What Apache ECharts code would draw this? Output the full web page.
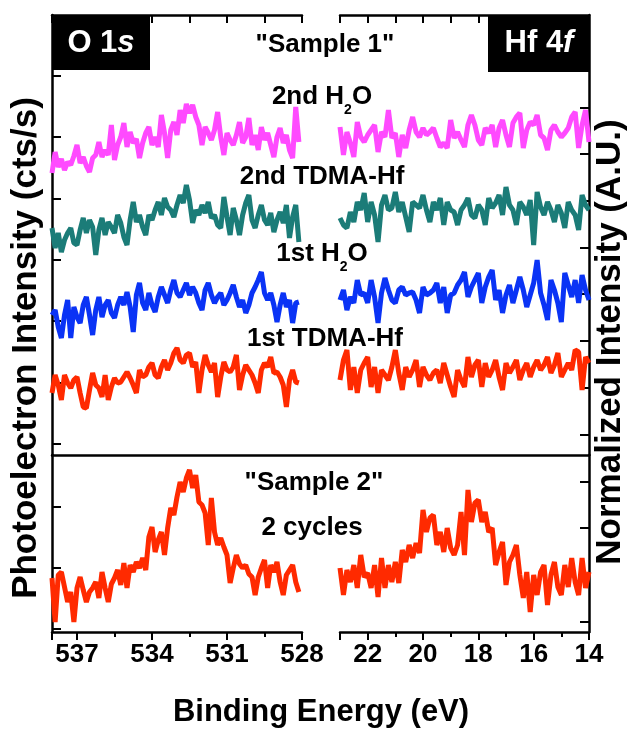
<!DOCTYPE html>
<html><head><meta charset="utf-8">
<script src="https://cdn.jsdelivr.net/npm/echarts@6/dist/echarts.min.js"></script>
<style>html,body{margin:0;padding:0;background:#fff}#c{width:633px;height:729px}</style>
</head><body><div id="c"></div><script>
// Binding energy scan grids (eV)
const o1sEnergy = [
538,537.875,537.75,537.625,537.5,537.375,537.25,537.125,
537,536.875,536.75,536.625,536.5,536.375,536.25,536.125,
536,535.875,535.75,535.625,535.5,535.375,535.25,535.125,
535,534.875,534.75,534.625,534.5,534.375,534.25,534.125,
534,533.875,533.75,533.625,533.5,533.375,533.25,533.125,
533,532.875,532.75,532.625,532.5,532.375,532.25,532.125,
532,531.875,531.75,531.625,531.5,531.375,531.25,531.125,
531,530.875,530.75,530.625,530.5,530.375,530.25,530.125,
530,529.875,529.75,529.625,529.5,529.375,529.25,529.125,
529,528.875,528.75,528.625,528.5,528.375,528.25,528.125];
const hf4fEnergy = [
23,22.875,22.75,22.625,22.5,22.375,22.25,22.125,
22,21.875,21.75,21.625,21.5,21.375,21.25,21.125,
21,20.875,20.75,20.625,20.5,20.375,20.25,20.125,
20,19.875,19.75,19.625,19.5,19.375,19.25,19.125,
19,18.875,18.75,18.625,18.5,18.375,18.25,18.125,
18,17.875,17.75,17.625,17.5,17.375,17.25,17.125,
17,16.875,16.75,16.625,16.5,16.375,16.25,16.125,
16,15.875,15.75,15.625,15.5,15.375,15.25,15.125,
15,14.875,14.75,14.625,14.5,14.375,14.25,14.125,14];

// Sample 1, O 1s (offset-stacked intensities)
const o1s_2ndH2O = [282,303,288,296,285,293,290,299,310,292,298,289,283,297,300,313,298,305,300,330,
295,310,318,332,308,323,312,316,297,312,322,328,310,318,308,340,322,297,325,333,
320,345,332,351,342,350,338,330,310,328,322,315,325,343,318,300,322,315,310,320,
333,312,318,337,310,320,305,328,315,322,310,298,318,327,312,320,305,297,348,313];
const o1s_2ndTDMA = [227,207,222,203,215,222,227,212,210,225,237,222,235,228,200,225,237,220,233,228,
222,240,232,218,210,235,253,233,240,228,220,240,235,245,253,240,257,248,245,238,
250,260,252,270,255,232,245,240,250,242,253,237,240,230,227,258,238,220,247,235,
220,240,252,260,235,227,240,250,235,230,242,223,235,243,232,250,217,238,250,213];
const o1s_1stH2O = [140,145,128,117,140,155,117,148,138,132,150,158,140,120,145,158,138,150,155,142,
137,150,158,150,163,148,123,160,172,152,145,162,150,143,158,168,160,152,165,175,
162,158,165,172,160,168,162,152,145,165,172,160,152,158,162,150,155,162,170,158,
148,155,142,150,162,168,175,183,162,155,162,150,133,150,162,148,155,132,152,153];
const o1s_1stTDMA = [62,80,70,55,80,72,67,75,78,62,48,47,65,82,70,67,58,80,55,68,
77,72,73,78,83,77,70,62,85,78,80,88,92,80,77,88,95,85,92,102,
107,95,92,100,102,88,93,62,85,100,90,83,92,58,78,93,85,83,88,100,
65,80,90,85,80,72,62,85,92,88,98,82,83,78,70,48,75,85,73,72];
// Sample 2, O 1s
const o1s_sample2 = [54,10,57,60,45,30,40,10,44,55,42,30,40,44,50,34,60,44,30,48,
54,62,47,69,44,67,60,70,64,74,62,95,105,80,92,100,77,104,124,117,
135,150,140,154,162,144,157,130,127,119,87,134,100,87,94,85,77,49,64,77,
68,64,67,58,55,37,55,64,72,44,67,60,70,50,37,57,62,67,50,40];

// Sample 1, Hf 4f
const hf_2ndH2O = [328,300,323,312,298,333,318,313,320,325,330,303,323,318,345,317,322,298,320,307,
325,338,323,318,327,320,323,327,317,308,312,307,335,317,323,315,308,330,340,330,
315,310,327,322,330,308,327,335,320,308,332,338,342,307,325,333,330,340,320,317,
305,325,330,323,318,322,327,338,343,307,330,345,313];
const hf_2ndTDMA = [237,230,227,243,233,253,245,262,233,253,240,213,250,260,245,247,263,243,253,238,
223,253,250,247,260,245,233,253,245,257,230,253,245,243,230,245,250,257,240,237,
250,245,230,257,247,252,260,240,268,250,245,230,253,248,240,255,210,263,248,240,
253,245,233,250,242,227,253,245,240,225,260,250,245];
const hf_1stH2O = [155,165,145,158,152,175,160,162,152,175,158,132,162,177,165,155,152,165,168,160,
162,163,155,142,168,160,162,165,172,152,168,142,160,162,170,175,183,158,168,175,
182,152,168,178,185,155,165,142,160,170,152,165,178,165,148,160,172,195,162,150,
135,175,165,152,133,182,170,158,175,152,180,165,155];
const hf_1stTDMA = [75,95,105,65,88,62,85,92,98,68,88,62,85,80,75,88,105,82,65,88,
78,85,95,68,88,80,75,82,85,72,92,80,68,58,85,75,68,98,78,90,
95,68,92,78,85,95,78,65,92,82,88,95,75,85,92,78,88,95,85,90,
98,82,90,102,78,85,92,85,105,103,65,98,92];
// Sample 2, Hf 4f
const hf_sample2 = [64,37,62,50,67,44,77,55,59,44,67,35,74,44,67,50,70,49,82,70,
87,74,89,79,122,100,114,117,87,100,80,104,84,77,87,120,77,142,110,129,
132,110,120,100,104,67,80,90,47,70,77,87,57,34,60,20,57,37,60,67,
27,57,70,45,37,67,45,74,50,37,74,44,60];

// Tick positions on the (unlabelled) intensity axes
const leftTopTicks = [11,72,134,195,256,318,379];
const leftBottomTicks = [3,64,125];
const rightTopTicks = [20,67,114,161,207,254,301,347,394];
const rightBottomTicks = [10,57,104,150];

const C_MAG = '#ff4aff', C_TEAL = '#1b7c78', C_BLUE = '#0a33f5', C_RED = '#ff2a00';
const FONT = '"Liberation Sans", Arial, Helvetica, sans-serif';

const chart = echarts.init(document.getElementById('c'), null, {renderer:'canvas'});
const black = {color:'#000', width:2.5};
const tickStyle = {color:'#000', width:2};
function pairs(xs, ys){ return ys.map((v,i)=>[xs[i], v]); }

function xAx(grid, min, max, pos, interval){
  const bottom = pos === 'bottom';
  return {
    type:'value', gridIndex:grid, min:min, max:max, inverse:true, position:pos, interval:interval,
    axisLine:{show:true, onZero:false, lineStyle:black},
    axisTick:{show:true, inside:!bottom, length:8, lineStyle:tickStyle},
    minorTick:{show:bottom, splitNumber:2, length:5, lineStyle:tickStyle},
    axisLabel:{show:bottom, margin:10, color:'#000', fontSize:26, fontWeight:'bold', fontFamily:FONT},
    splitLine:{show:false}, minorSplitLine:{show:false}
  };
}
function yAx(grid, max, pos, ticks){
  return {
    type:'value', gridIndex:grid, min:0, max:max, position:pos,
    axisLine:{show:true, onZero:false, lineStyle:black},
    axisTick:{show:true, inside:true, length:9, lineStyle:tickStyle, customValues:ticks},
    axisLabel:{show:false, customValues:ticks},
    splitLine:{show:false}
  };
}
function line(x, y, data, color){
  return {type:'line', xAxisIndex:x, yAxisIndex:y, data:data, showSymbol:false, symbol:'none',
    lineStyle:{color:color, width:5}, itemStyle:{color:color}, silent:true, clip:true};
}
function label(txt, cx, cy, size){
  return {type:'text', x:cx, y:cy, z:20, style:{text:txt, fill:'#000', font:'bold '+size+'px '+FONT,
    align:'center', verticalAlign:'middle', textAlign:'center', textVerticalAlign:'middle'}};
}
function h2oLabel(prefix, cx, cy){
  return {type:'text', x:cx, y:cy, z:20, style:{
    text:'{n|'+prefix+' H}{s|2}{n|O}', align:'center', verticalAlign:'middle', textAlign:'center', textVerticalAlign:'middle',
    rich:{
      n:{fontSize:26, fontWeight:'bold', fontFamily:FONT, fill:'#000', lineHeight:40, verticalAlign:'middle'},
      s:{fontSize:14, fontWeight:'bold', fontFamily:FONT, fill:'#000', lineHeight:15, verticalAlign:'bottom'}
    }}};
}

const option = {
  animation:false,
  backgroundColor:'#fff',
  grid:[
    {left:52, top:15, width:250, height:440},
    {left:52, top:455, width:250, height:177},
    {left:340, top:15, width:249, height:440},
    {left:340, top:455, width:249, height:177},
    {left:52, top:15, width:537, height:440}
  ],
  xAxis:[
    xAx(0, 528, 538, 'top', 1.5),
    xAx(1, 528, 538, 'bottom', 3),
    xAx(2, 14, 23, 'top', 1),
    xAx(3, 14, 23, 'bottom', 2),
    {type:'value', gridIndex:4, min:0, max:1, position:'bottom',
     axisLine:{show:true, onZero:false, lineStyle:black}, axisTick:{show:false}, axisLabel:{show:false}, splitLine:{show:false}}
  ],
  yAxis:[
    yAx(0, 440, 'left', leftTopTicks),
    yAx(1, 177, 'left', leftBottomTicks),
    yAx(2, 440, 'right', rightTopTicks),
    yAx(3, 177, 'right', rightBottomTicks),
    {type:'value', gridIndex:4, show:false, min:0, max:1}
  ],
  series:[
    line(0,0,pairs(o1sEnergy,o1s_2ndH2O),C_MAG),
    line(0,0,pairs(o1sEnergy,o1s_2ndTDMA),C_TEAL),
    line(0,0,pairs(o1sEnergy,o1s_1stH2O),C_BLUE),
    line(0,0,pairs(o1sEnergy,o1s_1stTDMA),C_RED),
    line(1,1,pairs(o1sEnergy,o1s_sample2),C_RED),
    line(2,2,pairs(hf4fEnergy,hf_2ndH2O),C_MAG),
    line(2,2,pairs(hf4fEnergy,hf_2ndTDMA),C_TEAL),
    line(2,2,pairs(hf4fEnergy,hf_1stH2O),C_BLUE),
    line(2,2,pairs(hf4fEnergy,hf_1stTDMA),C_RED),
    line(3,3,pairs(hf4fEnergy,hf_sample2),C_RED)
  ],
  graphic:[
    {type:'rect', z:15, shape:{x:52, y:15, width:98, height:55}, style:{fill:'#000'}},
    {type:'text', x:101, y:43, z:20, style:{text:'{a|O 1}{b|s}', align:'center', verticalAlign:'middle', textAlign:'center', textVerticalAlign:'middle',
      rich:{a:{fontSize:31, fontWeight:'bold', fontFamily:FONT, fill:'#fff'}, b:{fontSize:31, fontWeight:'bold', fontStyle:'italic', fontFamily:FONT, fill:'#fff'}}}},
    {type:'rect', z:15, shape:{x:488, y:15, width:101, height:57}, style:{fill:'#000'}},
    {type:'text', x:539, y:43, z:20, style:{text:'{a|Hf 4}{b|f}', align:'center', verticalAlign:'middle', textAlign:'center', textVerticalAlign:'middle',
      rich:{a:{fontSize:31, fontWeight:'bold', fontFamily:FONT, fill:'#fff'}, b:{fontSize:31, fontWeight:'bold', fontStyle:'italic', fontFamily:FONT, fill:'#fff'}}}},
    label('"Sample 1"', 325, 45, 26),
    h2oLabel('2nd', 322, 97),
    label('2nd TDMA-Hf', 322, 177, 26),
    h2oLabel('1st', 322, 254),
    label('1st TDMA-Hf', 325, 339, 26),
    label('"Sample 2"', 314, 483, 26),
    label('2 cycles', 312, 528, 26),
    label('Binding Energy (eV)', 321, 712, 31),
    Object.assign(label('Photoelectron Intensity (cts/s)', 26, 348, 35), {rotation:Math.PI/2}),
    Object.assign(label('Normalized Intensity (A.U.)', 610, 342, 35), {rotation:Math.PI/2})
  ]
};
chart.setOption(option);
</script></body></html>
